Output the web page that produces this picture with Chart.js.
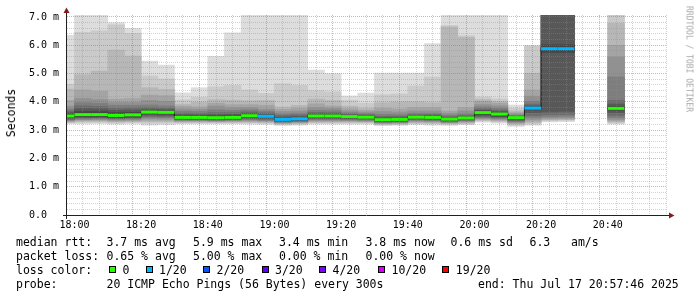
<!DOCTYPE html>
<html><head><meta charset="utf-8">
<script src="https://cdn.jsdelivr.net/npm/chart.js@4.4.0/dist/chart.umd.min.js"></script>
<style>
html,body{margin:0;padding:0;background:#fff;}
#wrap{position:relative;width:697px;height:297px;overflow:hidden;background:#fff;}
canvas{position:absolute;left:0;top:0;}
.t{position:absolute;font-family:"DejaVu Sans Mono",monospace;font-size:11.5px;line-height:14px;white-space:pre;color:#000;}
.box{position:absolute;width:5px;height:5px;border:1px solid #000;top:266px;}
.rot{position:absolute;font-family:"DejaVu Sans Mono",monospace;white-space:pre;}
</style></head><body>
<div id="wrap">
<canvas id="c" width="697" height="297"></canvas>
<div class="rot" style="left:10.5px;top:113px;font-size:11.5px;color:#000;transform:translate(-50%,-50%) rotate(-90deg);">Seconds</div>
<div class="rot" style="left:688.5px;top:59px;font-size:8px;color:#a8a8a8;transform:translate(-50%,-50%) rotate(90deg);">RRDTOOL / TOBI OETIKER</div>

<div class="t" style="left:16px;top:235px">median rtt:</div>
<div class="t" style="left:106.5px;top:235px">3.7 ms avg</div>
<div class="t" style="left:193px;top:235px">5.9 ms max</div>
<div class="t" style="left:279px;top:235px">3.4 ms min</div>
<div class="t" style="left:365.5px;top:235px">3.8 ms now</div>
<div class="t" style="left:450.5px;top:235px">0.6 ms sd</div>
<div class="t" style="left:529.5px;top:235px">6.3</div>
<div class="t" style="left:571px;top:235px">am/s</div>

<div class="t" style="left:16px;top:249px">packet loss:</div>
<div class="t" style="left:106.5px;top:249px">0.65 % avg</div>
<div class="t" style="left:193px;top:249px">5.00 % max</div>
<div class="t" style="left:279px;top:249px">0.00 % min</div>
<div class="t" style="left:365.5px;top:249px">0.00 % now</div>

<div class="t" style="left:16px;top:263px">loss color:</div>
<div id="lossLegend"></div>

<div class="t" style="left:16px;top:277px">probe:</div>
<div class="t" style="left:106.5px;top:277px">20 ICMP Echo Pings (56 Bytes) every 300s</div>
<div class="t" style="left:478px;top:277px">end: Thu Jul 17 20:57:46 2025</div>
</div>
<script>
// ---------- data ----------
const categories = ["17:55","18:00","18:05","18:10","18:15","18:20","18:25","18:30","18:35","18:40","18:45","18:50","18:55","19:00","19:05","19:10","19:15","19:20","19:25","19:30","19:35","19:40","19:45","19:50","19:55","20:00","20:05","20:10","20:15","20:20","20:25","20:30","20:35","20:40","20:45","20:50","20:55"];
const median = [3.50,3.55,3.55,3.52,3.54,3.64,3.63,3.45,3.45,3.44,3.45,3.51,3.49,3.38,3.40,3.50,3.50,3.48,3.46,3.37,3.38,3.46,3.45,3.39,3.43,3.62,3.57,3.44,3.78,5.88,5.88,null,null,3.77,null,null,null];
const lossCount = [0,0,0,0,0,0,0,0,0,0,0,0,1,1,1,0,0,0,0,0,0,0,0,0,0,0,0,0,1,1,1,null,null,0,null,null,null];
const n = null;
const p1  = [3.23,3.22,3.23,3.21,3.22,3.18,3.19,3.22,3.22,3.22,3.22,3.21,3.20,3.17,3.18,3.21,3.21,3.21,3.21,3.16,3.17,3.19,3.18,3.17,3.19,3.28,3.25,3.13,3.18,3.29,3.30,n,n,3.21,n,n,n];
const p2  = [3.26,3.27,3.27,3.25,3.26,3.24,3.25,3.25,3.25,3.25,3.25,3.25,3.24,3.20,3.21,3.25,3.25,3.25,3.25,3.19,3.20,3.23,3.22,3.20,3.22,3.32,3.29,3.17,3.22,3.33,3.34,n,n,3.25,n,n,n];
const p3  = [3.28,3.31,3.31,3.29,3.30,3.30,3.30,3.28,3.28,3.28,3.28,3.28,3.27,3.22,3.24,3.28,3.28,3.28,3.28,3.21,3.22,3.26,3.25,3.23,3.25,3.35,3.32,3.21,3.27,3.36,3.37,n,n,3.29,n,n,n];
const p4  = [3.31,3.34,3.34,3.32,3.33,3.35,3.35,3.31,3.31,3.30,3.31,3.31,3.30,3.24,3.26,3.31,3.31,3.31,3.30,3.23,3.24,3.29,3.28,3.25,3.28,3.38,3.35,3.24,3.32,3.39,3.40,n,n,3.33,n,n,n];
const p5  = [3.33,3.37,3.37,3.35,3.36,3.40,3.39,3.33,3.33,3.32,3.33,3.34,3.33,3.26,3.28,3.34,3.34,3.34,3.33,3.25,3.26,3.32,3.31,3.27,3.31,3.41,3.38,3.27,3.38,3.43,3.44,n,n,3.38,n,n,n];
const p6  = [3.36,3.39,3.40,3.38,3.39,3.45,3.44,3.35,3.35,3.34,3.35,3.37,3.35,3.28,3.30,3.37,3.37,3.36,3.35,3.27,3.28,3.35,3.34,3.29,3.33,3.44,3.41,3.30,3.45,3.48,3.49,n,n,3.44,n,n,n];
const p7  = [3.38,3.42,3.43,3.41,3.42,3.49,3.48,3.37,3.37,3.36,3.37,3.40,3.38,3.30,3.32,3.40,3.40,3.39,3.38,3.29,3.30,3.37,3.36,3.31,3.35,3.47,3.44,3.33,3.52,3.55,3.56,n,n,3.52,n,n,n];
const p8  = [3.41,3.45,3.45,3.43,3.44,3.53,3.52,3.39,3.39,3.38,3.39,3.43,3.41,3.32,3.34,3.42,3.42,3.41,3.40,3.31,3.32,3.40,3.39,3.33,3.37,3.51,3.47,3.36,3.62,3.64,3.66,n,n,3.62,n,n,n];
const p9  = [3.44,3.48,3.48,3.46,3.47,3.58,3.57,3.41,3.41,3.40,3.41,3.46,3.44,3.34,3.36,3.45,3.45,3.43,3.42,3.33,3.34,3.42,3.41,3.35,3.39,3.55,3.50,3.39,3.72,5.75,5.75,n,n,3.71,n,n,n];
const p10 = [3.47,3.52,3.52,3.49,3.51,3.62,3.61,3.43,3.43,3.42,3.43,3.49,3.47,3.36,3.38,3.48,3.48,3.46,3.44,3.35,3.36,3.44,3.43,3.37,3.41,3.59,3.54,3.42,3.76,5.84,5.84,n,n,3.75,n,n,n];
const p11 = [3.53,3.58,3.58,3.55,3.57,3.66,3.65,3.47,3.47,3.46,3.47,3.53,3.51,3.40,3.42,3.52,3.52,3.50,3.48,3.39,3.40,3.48,3.47,3.41,3.45,3.64,3.59,3.45,3.80,5.92,5.92,n,n,3.80,n,n,n];
const p12 = [3.57,3.66,3.66,3.62,3.63,3.69,3.68,3.50,3.50,3.50,3.51,3.56,3.53,3.42,3.44,3.55,3.55,3.52,3.50,3.41,3.41,3.49,3.49,3.42,3.46,3.67,3.62,3.46,3.82,6.02,6.02,n,n,3.84,n,n,n];
const p13 = [3.62,3.76,3.75,3.70,3.71,3.73,3.72,3.55,3.54,3.55,3.56,3.60,3.56,3.46,3.48,3.58,3.58,3.54,3.52,3.44,3.44,3.52,3.51,3.44,3.48,3.70,3.66,3.48,3.86,7.50,7.50,n,n,3.92,n,n,n];
const p14 = [3.68,3.86,3.84,3.78,3.79,3.80,3.78,3.60,3.59,3.62,3.62,3.65,3.61,3.52,3.54,3.63,3.62,3.57,3.55,3.49,3.49,3.55,3.55,3.48,3.52,3.75,3.71,3.50,3.92,7.50,7.50,n,n,4.05,n,n,n];
const p15 = [3.75,3.97,3.95,3.88,3.88,3.89,3.86,3.67,3.66,3.72,3.70,3.72,3.67,3.58,3.60,3.70,3.69,3.62,3.59,3.56,3.55,3.60,3.60,3.53,3.58,3.82,3.78,3.53,4.02,7.50,7.50,n,n,4.88,n,n,n];
const p16 = [3.85,4.12,4.08,3.98,3.98,4.05,4.02,3.75,3.74,3.85,3.80,3.80,3.74,3.66,3.68,3.80,3.77,3.68,3.64,3.66,3.64,3.68,3.68,3.60,3.68,3.90,3.86,3.57,4.20,7.50,7.50,n,n,5.59,n,n,n];
const p17 = [4.05,4.42,4.38,4.10,4.12,4.24,4.22,3.85,3.82,3.95,3.90,3.90,3.88,3.74,3.78,3.93,3.85,3.76,3.70,3.78,3.75,3.80,3.80,3.68,3.80,4.02,3.95,3.62,4.42,7.50,7.50,n,n,6.00,n,n,n];
const p18 = [4.45,4.96,5.09,5.83,5.62,4.50,4.44,3.92,3.99,4.08,4.06,4.04,4.05,3.82,3.88,4.10,4.05,3.85,3.78,3.97,4.00,4.00,3.97,6.65,6.28,4.08,4.02,3.68,5.01,7.50,7.50,n,n,6.78,n,n,n];
const p19 = [4.62,6.46,6.51,6.72,6.42,4.92,4.81,4.07,4.16,4.53,4.58,4.42,4.30,4.64,4.58,4.40,4.35,4.05,3.95,4.25,4.28,4.56,4.88,6.70,6.34,4.17,4.11,3.77,5.98,7.50,7.50,n,n,7.50,n,n,n];
const p20 = [6.35,7.50,7.50,6.80,6.60,5.44,5.30,4.32,4.50,5.61,6.44,7.50,7.50,7.50,7.50,5.12,5.00,4.21,4.31,5.02,5.02,5.02,6.06,7.50,7.50,7.50,7.50,3.89,5.98,7.50,7.50,n,n,7.50,n,n,n];
const xTickLabels = ["18:00","18:20","18:40","19:00","19:20","19:40","20:00","20:20","20:40"];
const yTickValues = [0,1,2,3,4,5,6,7];
const yTickLabels = ["0.0  ","1.0 m","2.0 m","3.0 m","4.0 m","5.0 m","6.0 m","7.0 m"];
const lossLegend = [0,1,2,3,4,10,19];

// ---------- styles ----------
const lossColors = {0:'#26ff00',1:'#00b8ff',2:'#0059ff',3:'#5e00ff',4:'#7e00ff',10:'#dd00ff',19:'#ff0000'};
const smokeShades = [221,202,183,164,145,126,107,88,69,50];
const lossLegendX = [[108.7,123],[145.7,159.5],[203.3,217],[261.7,275.5],[319.3,333],[377.7,392],[442.3,456.3]];

// legend boxes
const ll = document.getElementById('lossLegend');
lossLegend.forEach((l, i) => {
  const b = document.createElement('div'); b.className = 'box';
  b.style.left = lossLegendX[i][0] + 'px'; b.style.background = lossColors[l]; ll.appendChild(b);
  const t = document.createElement('div'); t.className = 't';
  t.style.left = (lossLegendX[i][1] - 0.5) + 'px'; t.style.top = '263px';
  t.textContent = l === 0 ? '0' : l + '/20'; ll.appendChild(t);
});

function toMin(s){ const [h,m] = s.split(':').map(Number); return (h-18)*60 + m; }
const starts = categories.map(toMin);
const P = [p1,p2,p3,p4,p5,p6,p7,p8,p9,p10,p11,p12,p13,p14,p15,p16,p17,p18,p19,p20];

const datasets = [];
for (let k = 1; k <= 10; k++) {
  const lo = P[k-1], hi = P[20-k];
  const data = [];
  starts.forEach((s, i) => { if (lo[i] != null && hi[i] != null) data.push({x: s + 2.5, y: [lo[i], hi[i]]}); });
  const g = smokeShades[k-1];
  datasets.push({type:'bar', data, backgroundColor:`rgb(${g},${g},${g})`, borderWidth:0,
    barPercentage:1, categoryPercentage:1, grouped:false, order:30-k, clip:0});
}
const medPts = [], medIdx = [];
starts.forEach((s, i) => {
  if (median[i] == null) return;
  const prevHas = i > 0 && median[i-1] != null;
  if (!prevHas && medPts.length) { medPts.push({x: s - 1, y: null}); medIdx.push(-1); }
  medPts.push({x: s, y: median[i]}); medIdx.push(i);
  medPts.push({x: s + 5, y: median[i]}); medIdx.push(i);
});
datasets.push({type:'line', data: medPts, borderColor:'#202020', borderWidth:1, pointRadius:0, order:2, clip:0, tension:0});
datasets.push({type:'line', data: medPts, borderWidth:3, pointRadius:0, order:1, clip:0, tension:0, borderCapStyle:'butt',
  borderColor:'#26ff00',
  segment:{borderColor: c => {
    const a = medIdx[c.p0DataIndex], b = medIdx[c.p1DataIndex];
    if (a < 0 || b < 0 || a !== b) return 'rgba(0,0,0,0)';
    return lossColors[lossCount[a]];
  }}});

const axisPlugin = {
  id: 'axes',
  afterDraw(chart) {
    const {ctx, chartArea: a} = chart;
    ctx.save();
    ctx.strokeStyle = '#202020'; ctx.lineWidth = 1;
    ctx.beginPath();
    ctx.moveTo(a.left - 0.5, a.bottom + 4); ctx.lineTo(a.left - 0.5, a.top - 4);
    ctx.moveTo(a.left - 4, a.bottom + 0.5); ctx.lineTo(a.right + 3, a.bottom + 0.5);
    ctx.stroke();
    ctx.fillStyle = '#7f1f1f';
    ctx.beginPath(); ctx.moveTo(a.left - 0.5, a.top - 7.5); ctx.lineTo(a.left - 3.5, a.top - 2); ctx.lineTo(a.left + 2.5, a.top - 2); ctx.closePath(); ctx.fill();
    ctx.beginPath(); ctx.moveTo(a.right + 7.5, a.bottom + 0.5); ctx.lineTo(a.right + 2, a.bottom - 2.5); ctx.lineTo(a.right + 2, a.bottom + 3.5); ctx.closePath(); ctx.fill();
    ctx.restore();
  }
};

const minorGrid = 'rgba(143,143,143,0.4)';
const majorGrid = 'rgba(222,79,79,0.5)';
const font = {family:'DejaVu Sans Mono', size:10};

new Chart(document.getElementById('c'), {
  type:'bar',
  data:{datasets},
  options:{
    responsive:false, animation:false,
    layout:{padding:{left:0, right:30, top:15, bottom:0}},
    plugins:{legend:{display:false}, tooltip:{enabled:false}},
    scales:{
      x:{type:'linear', min:-2.2333, max:177.7667, offset:false,
        afterBuildTicks: s => { const t = []; for (let v = 0; v <= 175; v += 5) t.push({value:v}); s.ticks = t; },
        afterFit: s => { s.height = 82; },
        ticks:{autoSkip:false, maxRotation:0, minRotation:0, padding:4, font, color:'#000',
          callback: v => (v % 20 === 0 ? xTickLabels[v/20] : '')},
        grid:{drawTicks:false, z:1, lineWidth:1, color: c => (c.tick && c.tick.value % 20 === 0) ? majorGrid : minorGrid},
        border:{display:false, dash:[1,1]}
      },
      y:{type:'linear', min:0, max:7.0707,
        afterBuildTicks: s => { const t = []; for (let i = 0; i <= 35; i++) t.push({value: i/5}); s.ticks = t; },
        afterFit: s => { s.width = 67; },
        ticks:{autoSkip:false, padding:8, font, color:'#000',
          callback: v => { const r = Math.round(v); return Math.abs(v - r) < 1e-6 && yTickValues.includes(r) ? yTickLabels[r] : ''; }},
        grid:{drawTicks:false, z:1, lineWidth:1, color: c => (c.tick && Math.abs(c.tick.value - Math.round(c.tick.value)) < 1e-6) ? majorGrid : minorGrid},
        border:{display:false, dash:[1,1]}
      }
    }
  },
  plugins:[axisPlugin]
});
</script>
</body></html>
